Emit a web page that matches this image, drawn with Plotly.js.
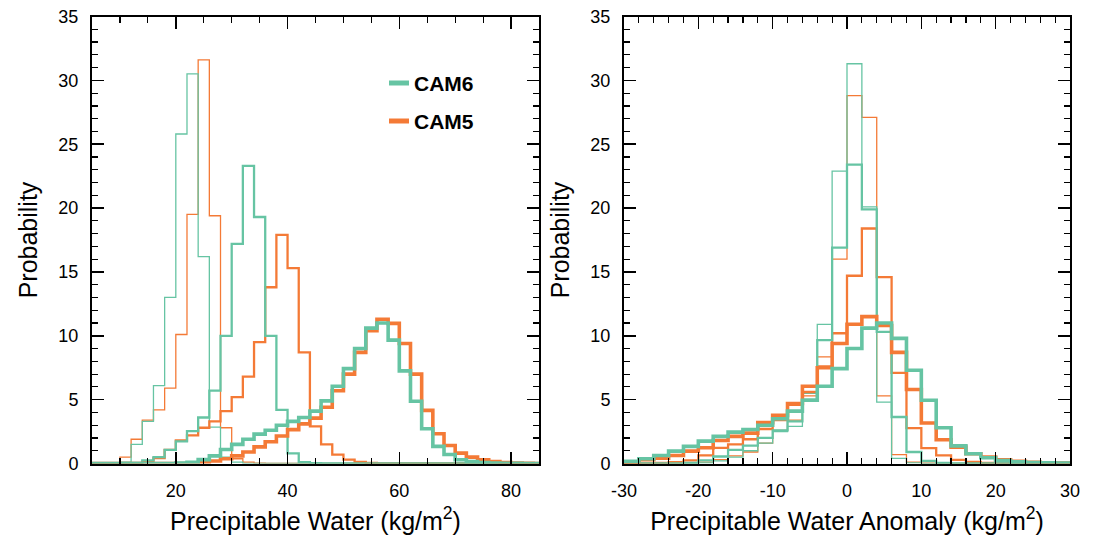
<!DOCTYPE html>
<html>
<head>
<meta charset="utf-8">
<script src="https://cdn.plot.ly/plotly-3.0.1.min.js"></script>
<style>html,body{margin:0;padding:0;background:#fff;}#chart{width:1097px;height:537px;}</style>
</head>
<body>
<div id="chart"></div>
<script>
// ---------- data ----------
// Left panel: precipitable water, bins of width 2 starting at 4 (4-6, 6-8, ..., 84-86)
const pwBinStart = 4;
const pwBinWidth = 2;
const pwThinCAM6 =   [0,0,0,0.1,1.5,3.3,6.1,13.0,25.8,30.5,16.2,2.85,0.5,0.1,0,0,0,0,0,0,0,0,0,0,0,0,0,0,0,0,0,0,0,0,0,0,0,0,0,0,0];
const pwThinCAM5 =   [0,0,0,0.5,1.9,3.4,4.2,5.9,10.1,19.5,31.6,19.4,2.8,0.37,0.1,0.03,0,0,0,0,0,0,0,0,0,0,0,0,0,0,0,0,0,0,0,0,0,0,0,0,0];
const pwMedCAM6 =    [0,0,0,0,0.05,0.24,0.5,1.07,1.73,2.54,3.6,5.7,10.0,17.2,23.3,19.3,10.0,4.2,0.8,0.1,0.03,0,0,0,0,0,0,0,0,0,0,0,0,0,0,0,0,0,0,0,0];
const pwMedCAM5 =    [0,0,0,0,0,0.15,0.42,1.07,1.8,2.2,2.8,3.3,4.1,5.2,6.8,9.5,13.8,17.9,15.3,8.7,2.9,1.5,0.7,0.3,0.12,0.05,0,0,0,0,0,0,0,0,0,0,0,0,0,0,0];
const pwThickCAM6 =  [0,0,0,0,0,0,0,0,0.03,0.1,0.3,0.6,1.1,1.5,1.9,2.3,2.6,3.0,3.3,3.6,4.1,4.9,6.05,7.43,9.0,10.6,11.0,9.66,7.25,4.87,2.72,1.34,0.7,0.29,0.15,0.08,0.04,0.02,0.01,0,0];
const pwThickCAM5 =  [0,0,0,0,0,0,0,0,0,0,0.05,0.2,0.37,0.6,0.9,1.3,1.7,2.15,2.65,3.1,3.55,4.4,5.7,7.0,8.7,10.4,11.3,10.97,9.4,7.0,4.16,2.33,1.41,0.81,0.5,0.29,0.16,0.08,0.04,0.02,0];

// Right panel: precipitable water anomaly, bins of width 2 from -30 to 30
const anBinStart = -30;
const anBinWidth = 2;
const anThinCAM6 =  [0,0,0,0,0,0.05,0.2,0.5,1.0,1.6,2.5,2.9,5.5,10.9,22.9,31.3,20.1,4.8,0.4,0.05,0,0,0,0,0,0,0,0,0,0];
const anThinCAM5 =  [0,0,0,0,0.05,0.1,0.3,0.6,0.9,1.6,2.6,3.4,5.3,8.35,16.0,28.8,27.1,5.3,0.7,0.1,0.03,0,0,0,0,0,0,0,0,0];
const anMedCAM6 =   [0,0,0,0,0.05,0.24,0.55,1.07,1.4,2.0,2.6,3.3,5.0,9.66,16.9,23.4,19.9,10.3,3.64,0.9,0.2,0.05,0,0,0,0,0,0,0,0];
const anMedCAM5 =   [0,0,0.05,0.1,0.24,0.63,1.23,1.5,1.9,2.7,3.4,4.6,5.6,7.6,10.2,14.7,18.4,14.6,7.1,2.77,1.2,0.63,0.29,0.13,0.05,0,0,0,0,0];
const anThickCAM6 = [0.18,0.37,0.63,0.97,1.34,1.75,2.12,2.46,2.66,3.0,3.5,4.1,4.95,6.05,7.43,9.0,10.6,11.0,9.8,7.3,4.95,2.8,1.38,0.76,0.45,0.24,0.13,0.08,0.05,0.03];
const anThickCAM5 = [0.1,0.29,0.42,0.63,0.97,1.23,1.8,2.12,2.38,3.2,3.77,4.7,6.05,7.5,9.4,10.9,11.5,10.8,8.7,5.8,3.17,1.86,1.28,0.76,0.5,0.29,0.18,0.1,0.05,0.03];

const seriesNames = ['CAM6', 'CAM5'];
const yTickVals = [0,5,10,15,20,25,30,35];
const yTickText = ['0','5','10','15','20','25','30','35'];
const leftXTicks = [20,40,60,80];
const leftXTickText = ['20','40','60','80'];
const rightXTicks = [-30,-20,-10,0,10,20,30];
const rightXTickText = ['-30','-20','-10','0','10','20','30'];

// ---------- styling ----------
const GREEN = '#66c4a3';
const ORANGE = '#f47a36';
const W = {thin: 1.3, med: 2.3, thick: 3.6};

function stepTrace(start, width, vals, color, lw, xa, ya, name) {
  const x = [], y = [];
  for (let i = 0; i < vals.length; i++) { x.push(start + i * width); y.push(vals[i]); }
  x.push(start + vals.length * width); y.push(vals[vals.length - 1]);
  return {type: 'scatter', mode: 'lines', x: x, y: y, xaxis: xa, yaxis: ya, name: name,
    line: {shape: 'hv', color: color, width: lw}, showlegend: false, hoverinfo: 'skip'};
}

const traces = [
  stepTrace(pwBinStart, pwBinWidth, pwThinCAM5, ORANGE, W.thin, 'x', 'y', 'CAM5'),
  stepTrace(pwBinStart, pwBinWidth, pwThinCAM6, GREEN, W.thin, 'x', 'y', 'CAM6'),
  stepTrace(pwBinStart, pwBinWidth, pwMedCAM5, ORANGE, W.med, 'x', 'y', 'CAM5'),
  stepTrace(pwBinStart, pwBinWidth, pwMedCAM6, GREEN, W.med, 'x', 'y', 'CAM6'),
  stepTrace(pwBinStart, pwBinWidth, pwThickCAM5, ORANGE, W.thick, 'x', 'y', 'CAM5'),
  stepTrace(pwBinStart, pwBinWidth, pwThickCAM6, GREEN, W.thick, 'x', 'y', 'CAM6'),
  stepTrace(anBinStart, anBinWidth, anThinCAM5, ORANGE, W.thin, 'x2', 'y2', 'CAM5'),
  stepTrace(anBinStart, anBinWidth, anThinCAM6, GREEN, W.thin, 'x2', 'y2', 'CAM6'),
  stepTrace(anBinStart, anBinWidth, anMedCAM5, ORANGE, W.med, 'x2', 'y2', 'CAM5'),
  stepTrace(anBinStart, anBinWidth, anMedCAM6, GREEN, W.med, 'x2', 'y2', 'CAM6'),
  stepTrace(anBinStart, anBinWidth, anThickCAM5, ORANGE, W.thick, 'x2', 'y2', 'CAM5'),
  stepTrace(anBinStart, anBinWidth, anThickCAM6, GREEN, W.thick, 'x2', 'y2', 'CAM6')
];

const FONT = 'Liberation Sans, Arial, Helvetica, sans-serif';
const tickFont = {family: FONT, size: 18, color: '#000'};
const titleFont = {family: FONT, size: 25, color: '#000'};

function xAxis(domain, range, ticks, ticktext, minorStep, anchor, title) {
  return {domain: domain, range: range, anchor: anchor, tickmode: 'array', tickvals: ticks, ticktext: ticktext,
    ticks: 'inside', ticklen: 12, tickwidth: 1.5, tickcolor: '#000', mirror: 'allticks',
    showline: true, linewidth: 2, linecolor: '#000', showgrid: false, zeroline: false,
    minor: {dtick: minorStep, tick0: 0, ticks: 'inside', ticklen: 6, tickwidth: 1.2, tickcolor: '#000', showgrid: false},
    tickfont: tickFont, ticklabelstandoff: 10,
    title: {text: title, font: titleFont, standoff: 12}, automargin: false, fixedrange: true};
}
function yAxis(domain, anchor) {
  return {domain: domain, range: [0, 35], anchor: anchor, tickmode: 'array', tickvals: yTickVals, ticktext: yTickText,
    ticks: 'inside', ticklen: 12, tickwidth: 1.5, tickcolor: '#000', mirror: 'allticks',
    showline: true, linewidth: 2, linecolor: '#000', showgrid: false, zeroline: false,
    minor: {dtick: 1, tick0: 0, ticks: 'inside', ticklen: 6, tickwidth: 1.2, tickcolor: '#000', showgrid: false},
    tickfont: tickFont, ticklabelstandoff: 8,
    title: {text: 'Probability', font: titleFont, standoff: 14}, automargin: false, fixedrange: true};
}

const yDom = [1 - 463.5 / 537, 1 - 16.5 / 537];
const layout = {
  width: 1097, height: 537,
  margin: {l: 0, r: 0, t: 0, b: 0},
  paper_bgcolor: '#fff', plot_bgcolor: '#fff',
  showlegend: false,
  xaxis: xAxis([92 / 1097, 539 / 1097], [5, 85], leftXTicks, leftXTickText, 5, 'y', 'Precipitable Water (kg/m<sup>2</sup>)'),
  yaxis: yAxis(yDom, 'x'),
  xaxis2: xAxis([624 / 1097, 1070 / 1097], [-30, 30], rightXTicks, rightXTickText, 2, 'y2', 'Precipitable Water Anomaly (kg/m<sup>2</sup>)'),
  yaxis2: yAxis(yDom, 'x2'),
  shapes: [
    {type: 'line', xref: 'paper', yref: 'paper', x0: 389 / 1097, x1: 409 / 1097, y0: 1 - 83 / 537, y1: 1 - 83 / 537,
     line: {color: GREEN, width: 5}},
    {type: 'line', xref: 'paper', yref: 'paper', x0: 389 / 1097, x1: 409 / 1097, y0: 1 - 121 / 537, y1: 1 - 121 / 537,
     line: {color: ORANGE, width: 5}}
  ],
  annotations: [
    {xref: 'paper', yref: 'paper', x: 412 / 1097, y: 1 - 83 / 537, xanchor: 'left', yanchor: 'middle', showarrow: false,
     text: '<b>' + seriesNames[0] + '</b>', font: {family: FONT, size: 21, color: '#000'}},
    {xref: 'paper', yref: 'paper', x: 412 / 1097, y: 1 - 121 / 537, xanchor: 'left', yanchor: 'middle', showarrow: false,
     text: '<b>' + seriesNames[1] + '</b>', font: {family: FONT, size: 21, color: '#000'}}
  ]
};

Plotly.newPlot('chart', traces, layout, {staticPlot: true, displayModeBar: false});
</script>
</body>
</html>
